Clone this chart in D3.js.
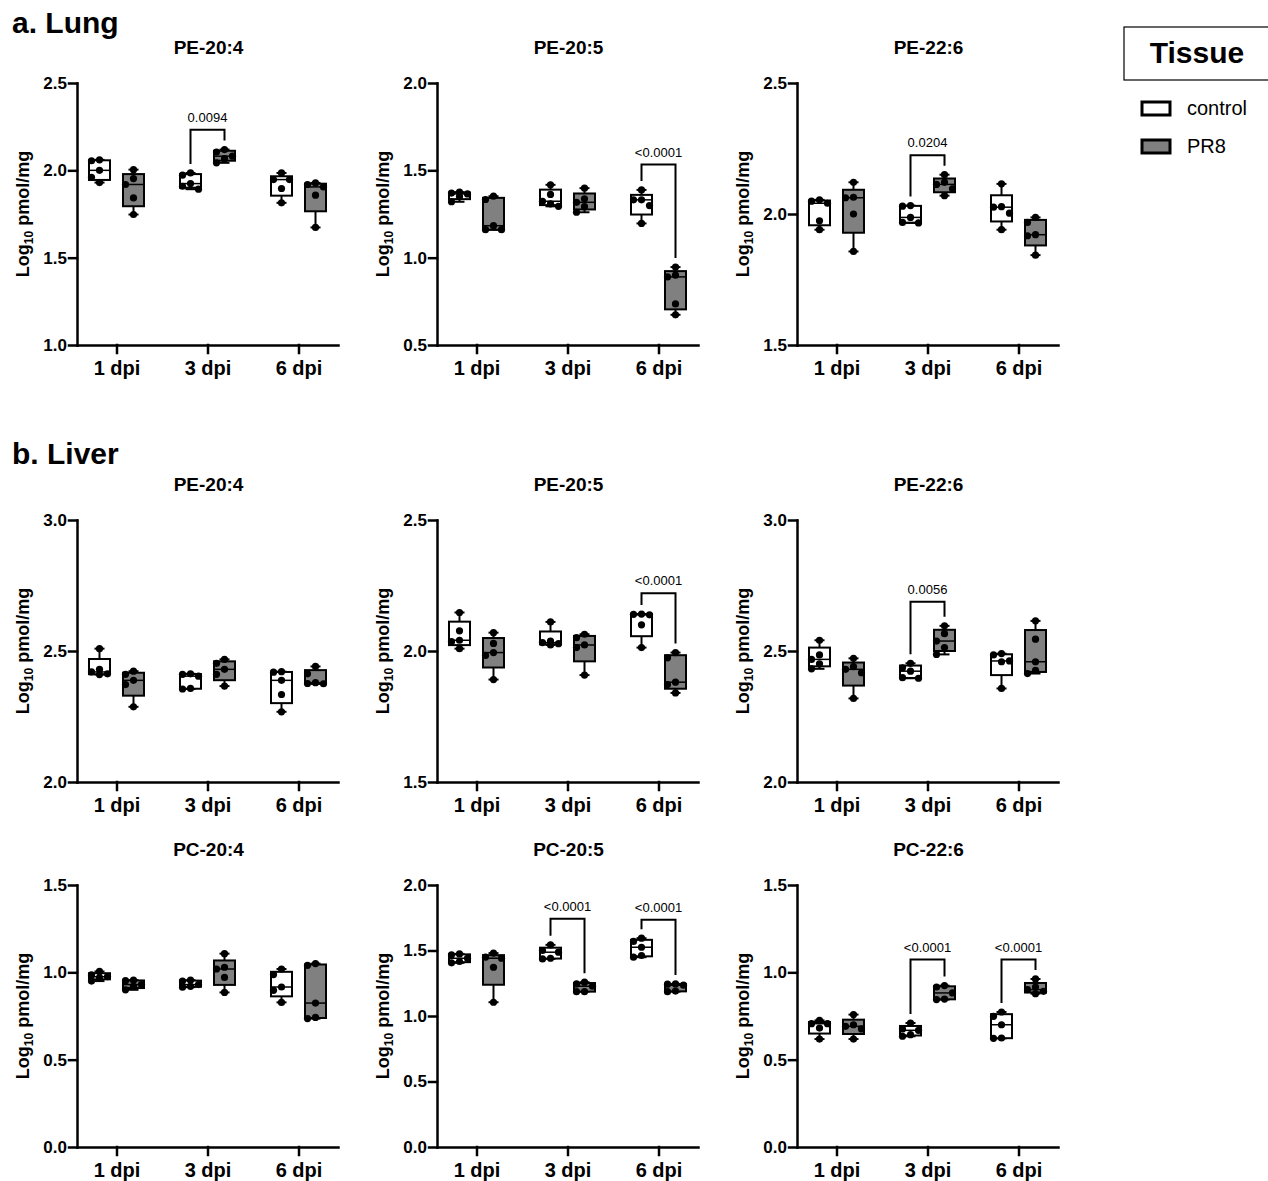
<!DOCTYPE html>
<html>
<head>
<meta charset="utf-8">
<script src="https://cdn.jsdelivr.net/npm/d3@7"></script>
<style>
  body { margin: 0; background: #fff; }
  text { font-family: "Liberation Sans", Arial, sans-serif; fill: #000; }
</style>
</head>
<body>
<div id="chart"></div>
<script>
// categories
var timepoints = ['1 dpi', '3 dpi', '6 dpi'];
var groups = ['control', 'PR8'];
var panelTitles = ['PE-20:4', 'PE-20:5', 'PE-22:6', 'PE-20:4', 'PE-20:5', 'PE-22:6', 'PC-20:4', 'PC-20:5', 'PC-22:6'];
var sectionTitles = ['a. Lung', 'b. Liver'];

// axis domains and ticks per panel
var yDomains = [[1, 2.5], [0.5, 2], [1.5, 2.5], [2, 3], [1.5, 2.5], [2, 3], [0, 1.5], [0, 2], [0, 1.5]];
var yTicks = [[1, 1.5, 2, 2.5], [0.5, 1, 1.5, 2], [1.5, 2, 2.5], [2, 2.5, 3], [1.5, 2, 2.5], [2, 2.5, 3],
              [0, 0.5, 1, 1.5], [0, 0.5, 1, 1.5, 2], [0, 0.5, 1, 1.5]];

// log10 pmol/mg, 5 mice per group, one row per timepoint
var lungPE204_control = [[2.06, 2.055, 2.0, 1.96, 1.93], [1.985, 1.972, 1.924, 1.909, 1.892], [1.985, 1.947, 1.947, 1.896, 1.814]];
var lungPE204_PR8     = [[2.004, 1.953, 1.919, 1.842, 1.747], [2.119, 2.105, 2.081, 2.067, 2.043], [1.928, 1.919, 1.905, 1.858, 1.673]];
var lungPE205_control = [[1.375, 1.37, 1.365, 1.35, 1.32], [1.417, 1.362, 1.323, 1.308, 1.294], [1.388, 1.331, 1.331, 1.298, 1.196]];
var lungPE205_PR8     = [[1.352, 1.333, 1.183, 1.16, 1.16], [1.398, 1.337, 1.317, 1.292, 1.26], [0.946, 0.9, 0.89, 0.735, 0.673]];
var lungPE226_control = [[2.054, 2.049, 2.041, 1.974, 1.94], [2.032, 2.03, 1.987, 1.968, 1.966], [2.115, 2.028, 2.026, 2.003, 1.94]];
var lungPE226_PR8     = [[2.121, 2.064, 2.062, 2.0, 1.857], [2.15, 2.121, 2.113, 2.096, 2.07], [1.987, 1.968, 1.921, 1.917, 1.843]];
var liverPE204_control = [[2.509, 2.43, 2.42, 2.413, 2.41], [2.413, 2.411, 2.404, 2.357, 2.355], [2.421, 2.419, 2.388, 2.334, 2.268]];
var liverPE204_PR8     = [[2.423, 2.411, 2.388, 2.372, 2.287], [2.468, 2.453, 2.43, 2.411, 2.366], [2.441, 2.413, 2.379, 2.376, 2.375]];
var liverPE205_control = [[2.147, 2.077, 2.041, 2.036, 2.009], [2.111, 2.038, 2.032, 2.028, 2.023], [2.141, 2.14, 2.138, 2.1, 2.013]];
var liverPE205_PR8     = [[2.07, 2.029, 1.994, 1.983, 1.891], [2.064, 2.051, 2.023, 2.013, 1.908], [1.994, 1.974, 1.881, 1.872, 1.84]];
var liverPE226_control = [[2.541, 2.485, 2.468, 2.451, 2.432], [2.453, 2.436, 2.423, 2.398, 2.396], [2.49, 2.485, 2.462, 2.459, 2.357]];
var liverPE226_PR8     = [[2.472, 2.44, 2.43, 2.417, 2.319], [2.596, 2.566, 2.538, 2.513, 2.487], [2.615, 2.545, 2.459, 2.426, 2.414]];
var liverPC204_control = [[1.005, 0.985, 0.975, 0.97, 0.95], [0.955, 0.95, 0.93, 0.92, 0.915], [1.019, 0.987, 0.916, 0.897, 0.828]];
var liverPC204_PR8     = [[0.955, 0.952, 0.93, 0.92, 0.9], [1.107, 1.029, 1.019, 0.971, 0.885], [1.05, 1.04, 0.824, 0.742, 0.735]];
var liverPC205_control = [[1.474, 1.467, 1.441, 1.416, 1.406], [1.543, 1.5, 1.487, 1.441, 1.436], [1.594, 1.569, 1.525, 1.462, 1.449]];
var liverPC205_PR8     = [[1.48, 1.449, 1.441, 1.372, 1.105], [1.258, 1.245, 1.227, 1.186, 1.186], [1.245, 1.243, 1.235, 1.19, 1.186]];
var liverPC226_control = [[0.725, 0.706, 0.706, 0.681, 0.618], [0.71, 0.676, 0.668, 0.643, 0.634], [0.773, 0.748, 0.7, 0.624, 0.622]];
var liverPC226_PR8     = [[0.758, 0.7, 0.691, 0.676, 0.618], [0.924, 0.916, 0.882, 0.847, 0.844], [0.962, 0.916, 0.901, 0.891, 0.878]];

// significant comparisons: [timepoint index, p value, bracket height]
var comparisons = [
  [[1, '0.0094', 2.233]],
  [[2, '<0.0001', 1.533]],
  [[1, '0.0204', 2.224]],
  [],
  [[2, '<0.0001', 2.22]],
  [[1, '0.0056', 2.688]],
  [],
  [[1, '<0.0001', 1.742], [2, '<0.0001', 1.735]],
  [[1, '<0.0001', 1.073], [2, '<0.0001', 1.073]]
];

var controlData = [lungPE204_control, lungPE205_control, lungPE226_control, liverPE204_control, liverPE205_control,
                   liverPE226_control, liverPC204_control, liverPC205_control, liverPC226_control];
var pr8Data = [lungPE204_PR8, lungPE205_PR8, lungPE226_PR8, liverPE204_PR8, liverPE205_PR8,
               liverPE226_PR8, liverPC204_PR8, liverPC205_PR8, liverPC226_PR8];

var fills = {control: '#ffffff', PR8: '#808080'};

var svg = d3.select('#chart').append('svg')
    .attr('width', 1268)
    .attr('height', 1181);

var cols = [77, 437, 797], rows = [83, 520, 885];
var W = 261, H = 262, boxW = 21, capW = 10, r = 3.6;

// quartile at position p*(n+1), like Prism
function quart(sorted, p) {
  var pos = p * (sorted.length + 1) - 1;
  var lo = Math.max(0, Math.floor(pos)), hi = Math.min(sorted.length - 1, Math.ceil(pos));
  return sorted[lo] + (sorted[hi] - sorted[lo]) * (pos - lo);
}

// spread dots sideways inside the box when they would overlap
function swarm(vals, y) {
  var placed = [];
  var order = vals.slice().sort(d3.descending);
  return order.map(function(v) {
    var py = y(v), offs = [0, -8, 8];
    var best = 0, bestD = -1;
    for (var k = 0; k < offs.length; k++) {
      var d = d3.min(placed, function(q) { return Math.hypot(q[0] - offs[k], q[1] - py); });
      if (d === undefined) d = Infinity;
      if (d >= 7.5) { best = offs[k]; bestD = d; break; }
      if (d > bestD) { best = offs[k]; bestD = d; }
    }
    placed.push([best, py]);
    return [best, py];
  });
}

panelTitles.forEach(function(title, i) {
  var left = cols[i % 3], top = rows[Math.floor(i / 3)];
  var g = svg.append('g').attr('transform', 'translate(' + left + ',' + top + ')');

  var x = d3.scalePoint().domain(timepoints).range([0, W]).padding(0.434);
  var xg = d3.scaleBand().domain(groups).range([-34, 34]);
  var y = d3.scaleLinear().domain(yDomains[i]).range([H, 0]);
  var data = {control: controlData[i], PR8: pr8Data[i]};

  function cx(tpIdx, grp) { return x(timepoints[tpIdx]) + xg(grp) + xg.bandwidth() / 2; }

  // title
  svg.append('text')
      .attr('x', left + W / 2 + 1)
      .attr('y', top - 29)
      .attr('text-anchor', 'middle')
      .style('font-size', '19px')
      .style('font-weight', 'bold')
      .text(title);

  // y label
  var yl = svg.append('text')
      .attr('transform', 'translate(' + (left - 48) + ',' + (top + H / 2) + ') rotate(-90)')
      .attr('text-anchor', 'middle')
      .style('font-size', '18px')
      .style('font-weight', 'bold');
  yl.append('tspan').text('Log');
  yl.append('tspan').attr('dy', 4).style('font-size', '12px').text('10');
  yl.append('tspan').attr('dy', -4).text(' pmol/mg');

  // boxes
  groups.forEach(function(grp) {
    data[grp].forEach(function(vals, t) {
      var s = vals.slice().sort(d3.ascending);
      var q1 = quart(s, 0.25), med = quart(s, 0.5), q3 = quart(s, 0.75);
      var c = cx(t, grp);
      var bg = g.append('g');
      bg.append('line').attr('x1', c).attr('x2', c).attr('y1', y(s[0])).attr('y2', y(s[s.length - 1]))
          .style('stroke', '#000').style('stroke-width', 2);
      [s[0], s[s.length - 1]].forEach(function(v) {
        bg.append('line').attr('x1', c - capW / 2).attr('x2', c + capW / 2).attr('y1', y(v)).attr('y2', y(v))
            .style('stroke', '#000').style('stroke-width', 2);
      });
      bg.append('rect')
          .attr('x', c - boxW / 2).attr('width', boxW)
          .attr('y', y(q3)).attr('height', Math.max(0.5, y(q1) - y(q3)))
          .style('fill', fills[grp]).style('stroke', '#000').style('stroke-width', 2);
      bg.append('line').attr('x1', c - boxW / 2).attr('x2', c + boxW / 2).attr('y1', y(med)).attr('y2', y(med))
          .style('stroke', '#000').style('stroke-width', 1.5);
      swarm(vals, y).forEach(function(p) {
        bg.append('circle').attr('cx', c + p[0]).attr('cy', p[1]).attr('r', r).style('fill', '#000');
      });
    });
  });

  // significance brackets
  comparisons[i].forEach(function(cmp) {
    var t = cmp[0];
    var x1 = cx(t, 'control'), x2 = cx(t, 'PR8');
    var yt = y(cmp[2]);
    var y1 = y(d3.max(data.control[t])) - 9, y2 = y(d3.max(data.PR8[t])) - 9;
    g.append('path')
        .attr('d', 'M' + x1 + ',' + y1 + 'V' + yt + 'H' + x2 + 'V' + y2)
        .style('fill', 'none').style('stroke', '#000').style('stroke-width', 2);
    g.append('text')
        .attr('x', (x1 + x2) / 2).attr('y', yt - 8)
        .attr('text-anchor', 'middle')
        .style('font-size', '13px')
        .text(cmp[1]);
  });

  // axes
  var ya = g.append('g').call(d3.axisLeft(y).tickValues(yTicks[i]).tickFormat(d3.format('.1f'))
      .tickSize(8).tickSizeOuter(0).tickPadding(2));
  var xa = g.append('g').attr('transform', 'translate(0,' + H + ')')
      .call(d3.axisBottom(x).tickSize(8).tickSizeOuter(0).tickPadding(8));
  [ya, xa].forEach(function(a) {
    a.selectAll('path, line').style('stroke', '#000').style('stroke-width', 2.5).style('stroke-linecap', 'square');
    a.selectAll('text').style('font-family', '"Liberation Sans", Arial, sans-serif').style('font-weight', 'bold').style('fill', '#000');
  });
  ya.selectAll('text').style('font-size', '17px');
  xa.selectAll('text').style('font-size', '20px');
});

// section labels
svg.append('text').attr('x', 12).attr('y', 33)
    .style('font-size', '30px').style('font-weight', 'bold').text(sectionTitles[0]);
svg.append('text').attr('x', 12).attr('y', 464)
    .style('font-size', '30px').style('font-weight', 'bold').text(sectionTitles[1]);

// legend
var leg = svg.append('g');
leg.append('rect').attr('x', 1124).attr('y', 27).attr('width', 170).attr('height', 53)
    .style('fill', 'none').style('stroke', '#000').style('stroke-width', 1.2);
leg.append('text').attr('x', 1197).attr('y', 63).attr('text-anchor', 'middle')
    .style('font-size', '30px').style('font-weight', 'bold').text('Tissue');
groups.forEach(function(grp, k) {
  leg.append('rect').attr('x', 1142).attr('y', 102 + k * 38).attr('width', 28).attr('height', 13)
      .style('fill', fills[grp]).style('stroke', '#000').style('stroke-width', 3);
  leg.append('text').attr('x', 1187).attr('y', 115 + k * 38)
      .style('font-size', '20px').text(grp);
});
</script>
</body>
</html>
